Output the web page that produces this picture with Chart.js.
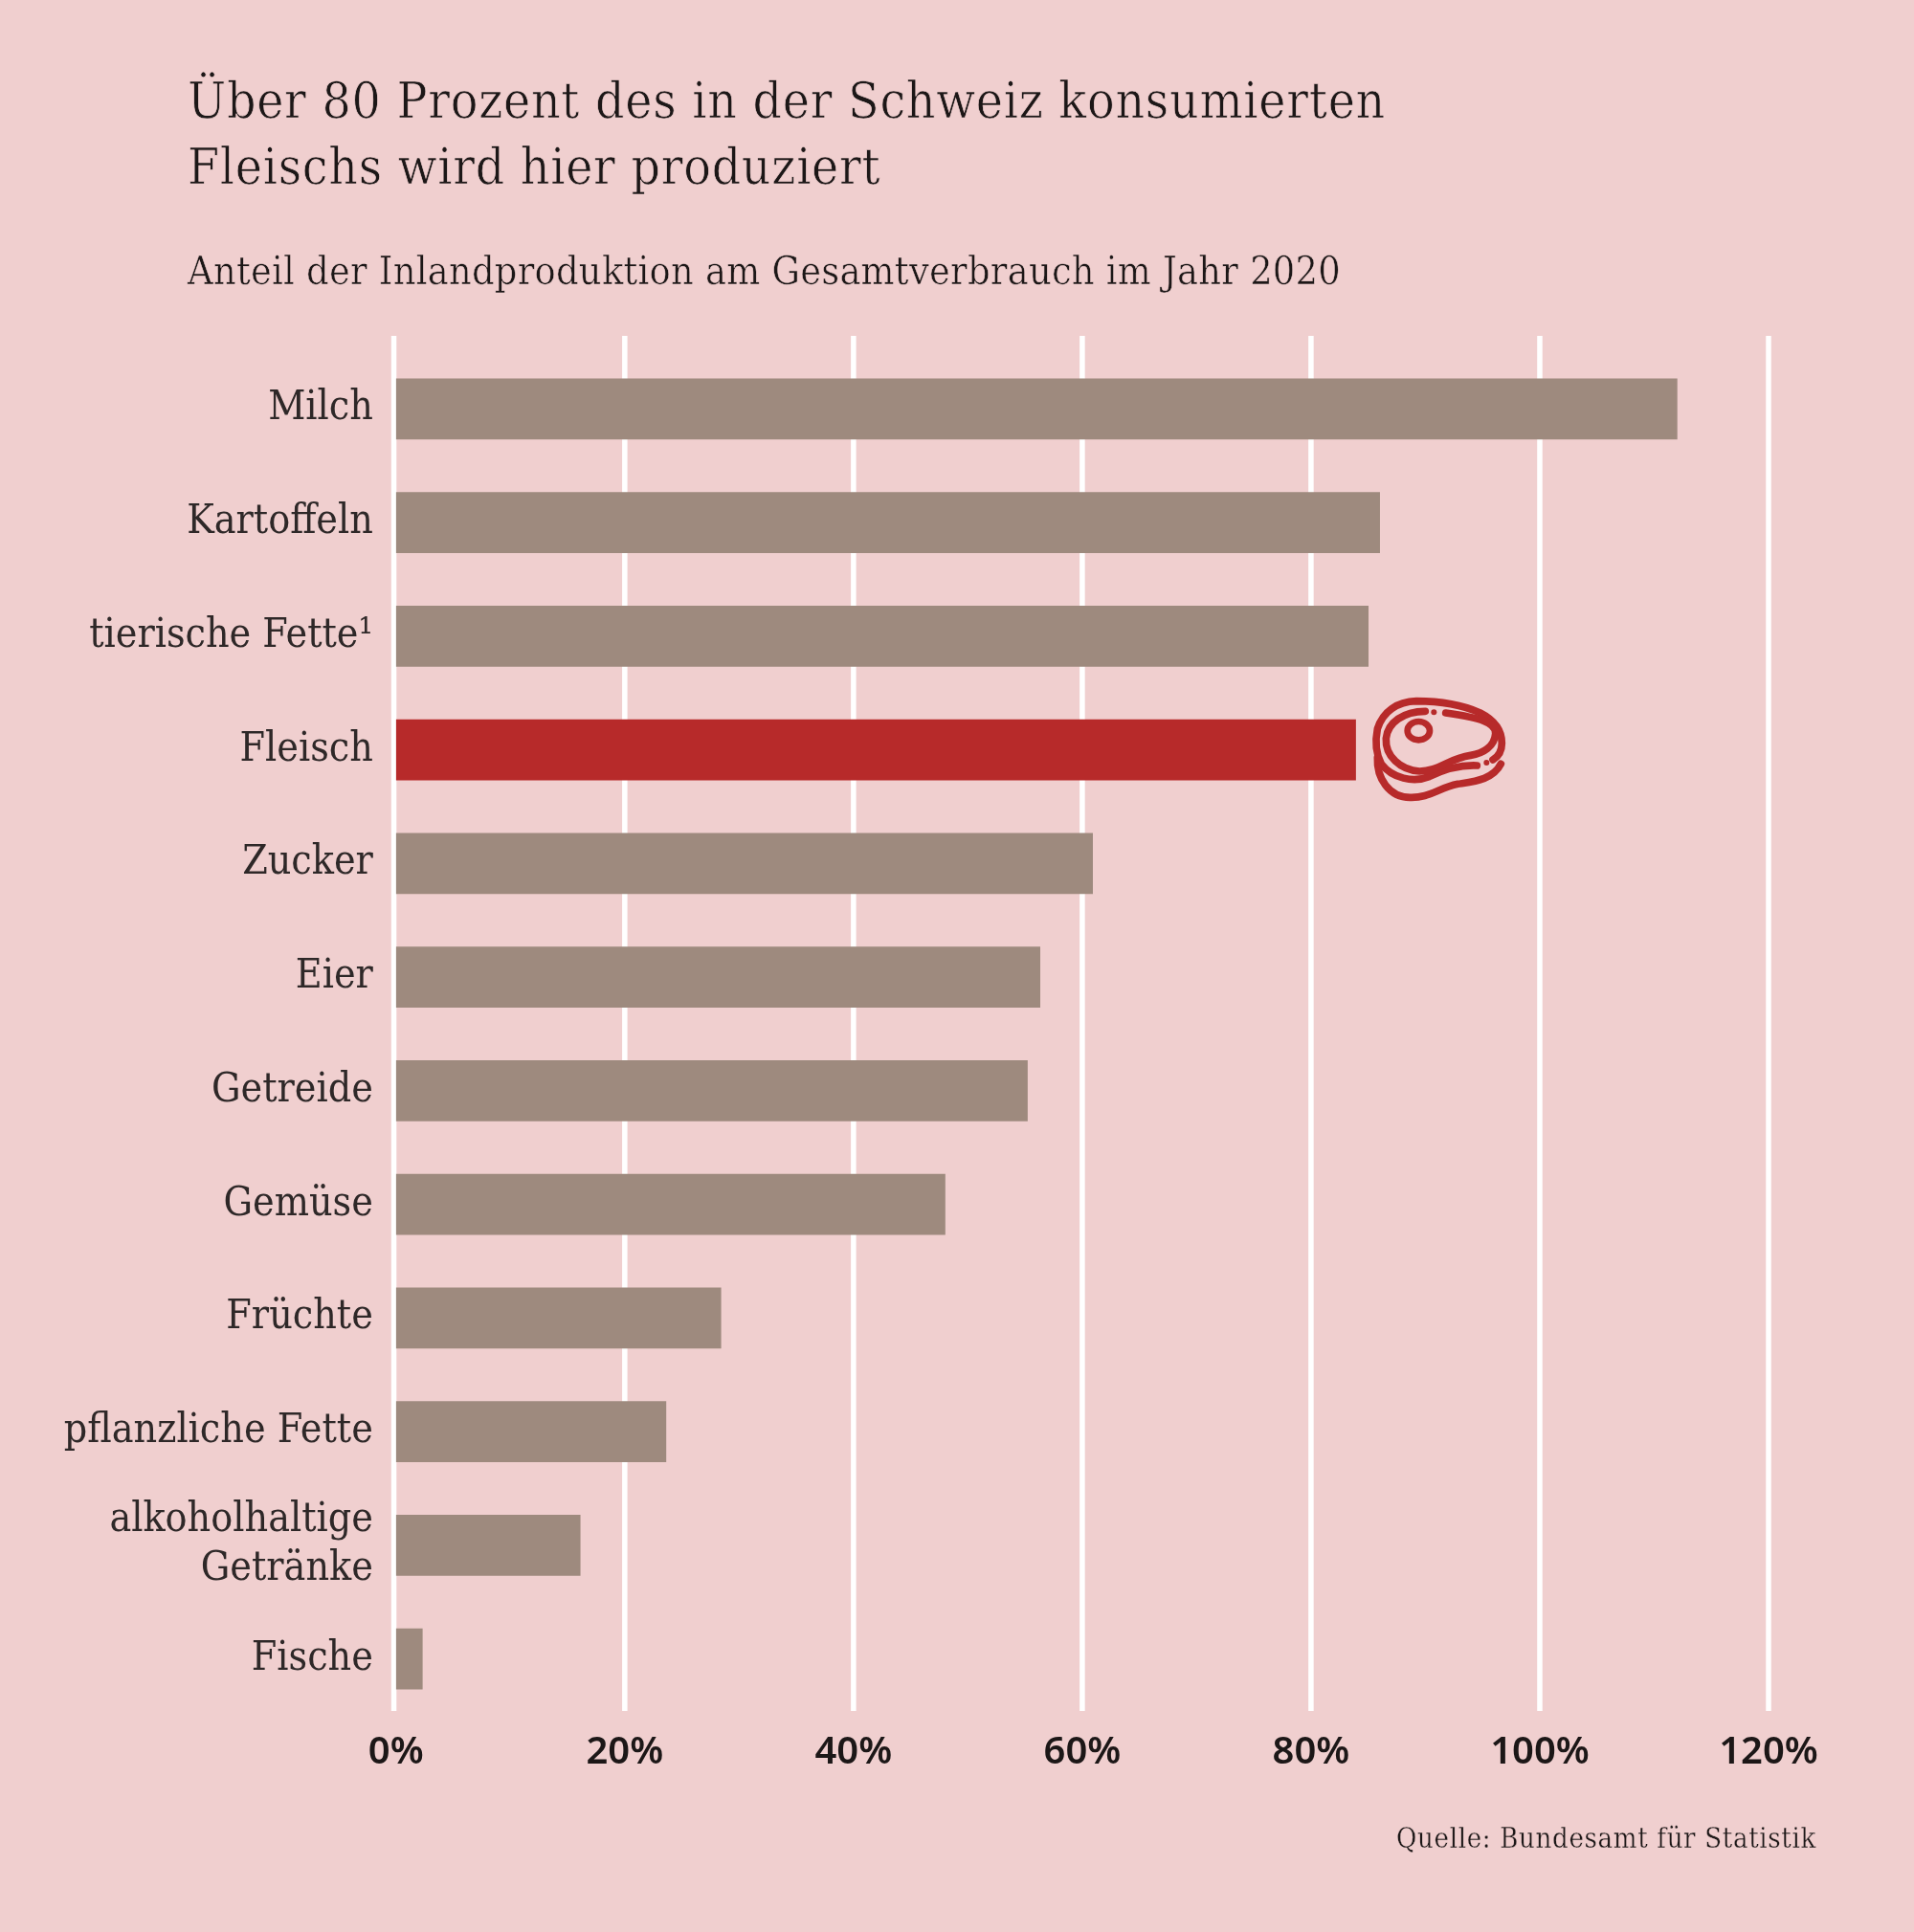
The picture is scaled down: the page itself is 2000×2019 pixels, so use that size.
<!DOCTYPE html>
<html lang="de"><head><meta charset="utf-8">
<script src="https://cdn.jsdelivr.net/npm/chart.js@4"></script>
<style>
html,body{margin:0;padding:0;background:#f0cfcf;width:2000px;height:2019px;overflow:hidden}
#wrap{position:relative;width:2000px;height:2019px}
canvas{position:absolute;left:0;top:0}
.t{position:absolute;font-family:"DejaVu Serif Condensed","DejaVu Serif",serif;color:#1c1717;white-space:nowrap;-webkit-text-stroke:0.7px #f0cfcf}
#title{left:196px;top:70px;font-size:53px;line-height:69px}
#sub{left:196px;top:258px;font-size:41px;line-height:50px;-webkit-text-stroke:0.5px #f0cfcf}
#src{right:102px;top:1903px;font-size:29px;line-height:36px;-webkit-text-stroke:0.3px #f0cfcf}
#icon{position:absolute;left:1380px;top:700px}
</style></head><body>
<div id="wrap">
<canvas id="c" width="2000" height="2019"></canvas>
<div class="t" id="title">Über 80 Prozent des in der Schweiz konsumierten<br>Fleischs wird hier produziert</div>
<div class="t" id="sub">Anteil der Inlandproduktion am Gesamtverbrauch im Jahr 2020</div>
<div class="t" id="src">Quelle: Bundesamt für Statistik</div>
<svg id="icon" width="240" height="160" viewBox="0 0 720 480" fill="none" stroke="#b72a2a" stroke-width="23" stroke-linecap="round">
<path d="M540 282C556 272 568 258 568 230C568 190 545 158 500 135C440 108 370 98 300 98C240 100 195 130 178 185C170 225 172 260 190 295C225 340 290 355 340 335C390 310 440 298 490 300"/>
<path d="M178 275C175 340 215 400 280 400C340 402 370 370 430 358C480 350 540 345 565 295"/>
<path d="M328 130C260 130 210 165 205 215C202 270 250 315 310 318C370 318 400 278 470 268C510 262 545 240 548 200C550 165 500 150 392 135"/>
<ellipse cx="307" cy="191" rx="35" ry="29" stroke-width="20"/>
<circle cx="355" cy="133" r="9" fill="#b72a2a" stroke="none"/><circle cx="520" cy="291" r="9" fill="#b72a2a" stroke="none"/>
</svg>
</div>
<script>
const categories = ["Milch","Kartoffeln","tierische Fette¹","Fleisch","Zucker","Eier","Getreide","Gemüse","Früchte","pflanzliche Fette",["alkoholhaltige","Getränke"],"Fische"];
const shareValues = [112,86,85,83.9,60.9,56.3,55.2,48,28.4,23.6,16.1,2.3];
const highlighted = "Fleisch";
const xTicks = [0,20,40,60,80,100,120];

function fit(id,target){
  const el=document.getElementById(id);
  const n=Math.max(...el.innerHTML.split('<br>').map(s=>s.length));
  const w=el.getBoundingClientRect().width;
  el.style.letterSpacing=((target-w)/n)+'px';
}
fit('title',1252);fit('sub',1205);fit('src',439);

const whiteGrid = {
  id:'whiteGrid',
  beforeDatasetsDraw(chart){
    const x = chart.scales.x, ctx = chart.ctx;
    ctx.save();
    ctx.fillStyle = '#ffffff';
    x.ticks.forEach(t=>{
      const px = x.getPixelForValue(t.value);
      const lx = t.value===0 ? px-5 : px-2.75;
      ctx.fillRect(lx,351,5.5,1437);
    });
    ctx.restore();
  }
};
new Chart(document.getElementById('c'),{
  type:'bar',
  plugins:[whiteGrid],
  data:{labels:categories,datasets:[{
    data:shareValues,
    backgroundColor:categories.map(c=>c===highlighted?'#b72a2a':'#9e8a7e'),
    barThickness:63,
    categoryPercentage:1
  }]},
  options:{
    indexAxis:'y',responsive:false,animation:false,devicePixelRatio:1,
    layout:{padding:{top:368,right:152,left:0,bottom:0}},
    plugins:{legend:{display:false},tooltip:{enabled:false},title:{display:false}},
    scales:{
      x:{type:'linear',min:0,max:120,
        grid:{display:false},border:{display:false},
        afterBuildTicks(s){s.ticks=xTicks.map(v=>({value:v}));},
        afterFit(s){s.height=226;},
        ticks:{padding:7,maxRotation:0,autoSkip:false,color:'#1c1717',
          font:{family:'"Noto Sans"',size:40,weight:'600'},callback:v=>v+'%'}},
      y:{grid:{display:false},border:{display:false},
        afterFit(s){s.width=413.8;},
        ticks:{padding:16,color:'#2e2828',autoSkip:false,
          font:{family:'"DejaVu Serif Condensed"',size:42.5}}}
    }
  }
});
</script>
</body></html>
